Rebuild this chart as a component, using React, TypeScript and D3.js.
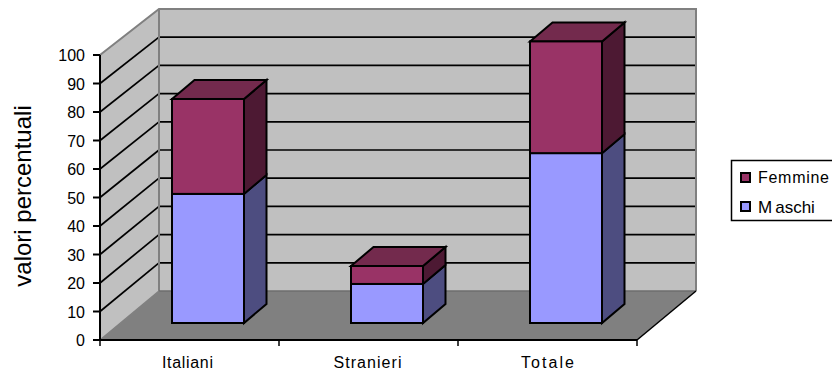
import React from "react";
import * as d3 from "d3";

// Percentage shares per group
const categories = ["Italiani", "Stranieri", "Totale"];
const maschi = [45.3, 13.7, 59.6];
const femmine = [33.3, 6.3, 39.2];
const yTicks = [0, 10, 20, 30, 40, 50, 60, 70, 80, 90, 100];
const seriesNames = ["Maschi", "Femmine"];
const frontColors = ["#9999ff", "#993366"];
const topColors = ["#7373bf", "#732a4d"];
const sideColors = ["#4d4d80", "#4d1933"];

const W = 832;
const H = 374;
const FONT = "'Liberation Sans', Arial, sans-serif";

// Oblique projection: one scale for the front plane and one for the back wall
const yFront = d3.scaleLinear().domain([0, 100]).range([340, 55]);
const yBack = d3.scaleLinear().domain([0, 100]).range([291, 9]);
const xBand = d3.scaleBand<string>().domain(categories).range([100, 637]);
const wallDx = 59;
const barInset = { x: 72, y: 17 };
const barDepth = { x: 22.5, y: -19 };
const barWidth = 72;
const categoryLabelWidths = [51, 68, 53];
const categoryLabelShift = [-2, -1, 0];

const rows = categories.map((c, i) => ({ c, Maschi: maschi[i], Femmine: femmine[i] }));
const stacked = d3.stack<any>().keys(seriesNames)(rows);
const toPoints = (p: number[][]) => p.map((q) => q.join(",")).join(" ");

export default function App() {
  const x0 = xBand.range()[0];
  const x1 = xBand.range()[1];
  const barY = (v: number) => yFront(v) - barInset.y;
  const strokeBar = { stroke: "#000", strokeWidth: 2, strokeLinejoin: "miter" as const };

  return (
    <svg
      width={W}
      height={H}
      viewBox={`0 0 ${W} ${H}`}
      style={{ position: "absolute", left: 0, top: 0, background: "#fff" }}
      fontFamily={FONT}
    >
      {/* Back wall, side wall and floor */}
      <rect x={x0 + wallDx} y={yBack(100)} width={x1 - x0} height={yBack(0) - yBack(100)} fill="#c0c0c0" />
      <polygon
        points={toPoints([
          [x0, yFront(100)],
          [x0 + wallDx, yBack(100)],
          [x0 + wallDx, yBack(0)],
          [x0, yFront(0)],
        ])}
        fill="#c0c0c0"
      />
      <polygon
        points={toPoints([
          [x0, yFront(0)],
          [x0 + wallDx, yBack(0)],
          [x1 + wallDx, yBack(0)],
          [x1, yFront(0)],
        ])}
        fill="#808080"
      />

      {/* Gridlines */}
      {yTicks.slice(1, -1).map((t) => (
        <g key={t}>
          <line x1={x0} y1={yFront(t)} x2={x0 + wallDx} y2={yBack(t)} stroke="#000" strokeWidth={1.7} />
          <line x1={x0 + wallDx} y1={yBack(t)} x2={x1 + wallDx} y2={yBack(t)} stroke="#000" strokeWidth={1.7} />
        </g>
      ))}

      {/* Wall outlines */}
      <polyline
        points={toPoints([
          [x0, yFront(100)],
          [x0 + wallDx, yBack(100)],
          [x1 + wallDx, yBack(100)],
          [x1 + wallDx, yBack(0)],
        ])}
        fill="none"
        stroke="#808080"
        strokeWidth={2}
      />
      <line x1={x0 + wallDx} y1={yBack(100)} x2={x0 + wallDx} y2={yBack(0)} stroke="#808080" strokeWidth={2} />
      <line x1={x0 + wallDx} y1={yBack(0)} x2={x1 + wallDx} y2={yBack(0)} stroke="#6e6e6e" strokeWidth={1.5} />
      <line x1={x0} y1={yFront(0)} x2={x0 + wallDx} y2={yBack(0)} stroke="#808080" strokeWidth={1.5} />
      <line x1={x1} y1={yFront(0)} x2={x1 + wallDx} y2={yBack(0)} stroke="#000" strokeWidth={1.5} />

      {/* Stacked boxes */}
      {categories.map((c, i) => {
        const bx = (xBand(c) as number) + barInset.x;
        return (
          <g key={c}>
            {stacked.map((s, k) => {
              const yLow = barY(s[i][0]);
              const yHigh = barY(s[i][1]);
              const rx = bx + barWidth;
              return (
                <g key={s.key} {...strokeBar}>
                  <polygon
                    points={toPoints([
                      [rx, yHigh],
                      [rx + barDepth.x, yHigh + barDepth.y],
                      [rx + barDepth.x, yLow + barDepth.y],
                      [rx, yLow],
                    ])}
                    fill={sideColors[k]}
                  />
                  {k === stacked.length - 1 && (
                    <polygon
                      points={toPoints([
                        [bx, yHigh],
                        [bx + barDepth.x, yHigh + barDepth.y],
                        [rx + barDepth.x, yHigh + barDepth.y],
                        [rx, yHigh],
                      ])}
                      fill={topColors[k]}
                    />
                  )}
                  <rect x={bx} y={yHigh} width={barWidth} height={yLow - yHigh} fill={frontColors[k]} />
                </g>
              );
            })}
          </g>
        );
      })}

      {/* Value axis */}
      <line x1={x0} y1={yFront(100)} x2={x0} y2={yFront(0)} stroke="#000" strokeWidth={2} />
      {yTicks.map((t) => (
        <g key={t}>
          <line x1={x0 - 7} y1={yFront(t)} x2={x0} y2={yFront(t)} stroke="#000" strokeWidth={2} />
          <text x={85} y={yFront(t) + 6} fontSize={16} textAnchor="end" fill="#000">
            {t}
          </text>
        </g>
      ))}
      <text
        transform="translate(31,196) rotate(-90)"
        fontSize={24}
        textAnchor="middle"
        fill="#000"
      >
        valori percentuali
      </text>

      {/* Category axis */}
      <line x1={x0} y1={yFront(0)} x2={x1} y2={yFront(0)} stroke="#000" strokeWidth={2} />
      {[...categories.map((c) => xBand(c) as number), x1].map((x) => (
        <line key={x} x1={x} y1={yFront(0)} x2={x} y2={yFront(0) + 6} stroke="#000" strokeWidth={1.5} />
      ))}
      {categories.map((c, i) => (
        <text
          key={c}
          x={(xBand(c) as number) + xBand.bandwidth() / 2 + categoryLabelShift[i]}
          y={368}
          fontSize={16}
          textAnchor="middle"
          textLength={categoryLabelWidths[i]}
          lengthAdjust="spacing"
          fill="#000"
        >
          {c}
        </text>
      ))}

      {/* Legend */}
      <rect x={731.5} y={160.5} width={110} height={60} fill="#fff" stroke="#000" strokeWidth={1.5} />
      <rect x={741} y={173} width={9} height={9} fill={frontColors[1]} stroke="#000" strokeWidth={2} />
      <rect x={741} y={202} width={9} height={9} fill={frontColors[0]} stroke="#000" strokeWidth={2} />
      <text x={758} y={183} fontSize={16} textLength={71} lengthAdjust="spacing" fill="#000">
        Femmine
      </text>
      <text x={758} y={213} fontSize={17} fill="#000">
        M<tspan dx={3}>aschi</tspan>
      </text>
    </svg>
  );
}
